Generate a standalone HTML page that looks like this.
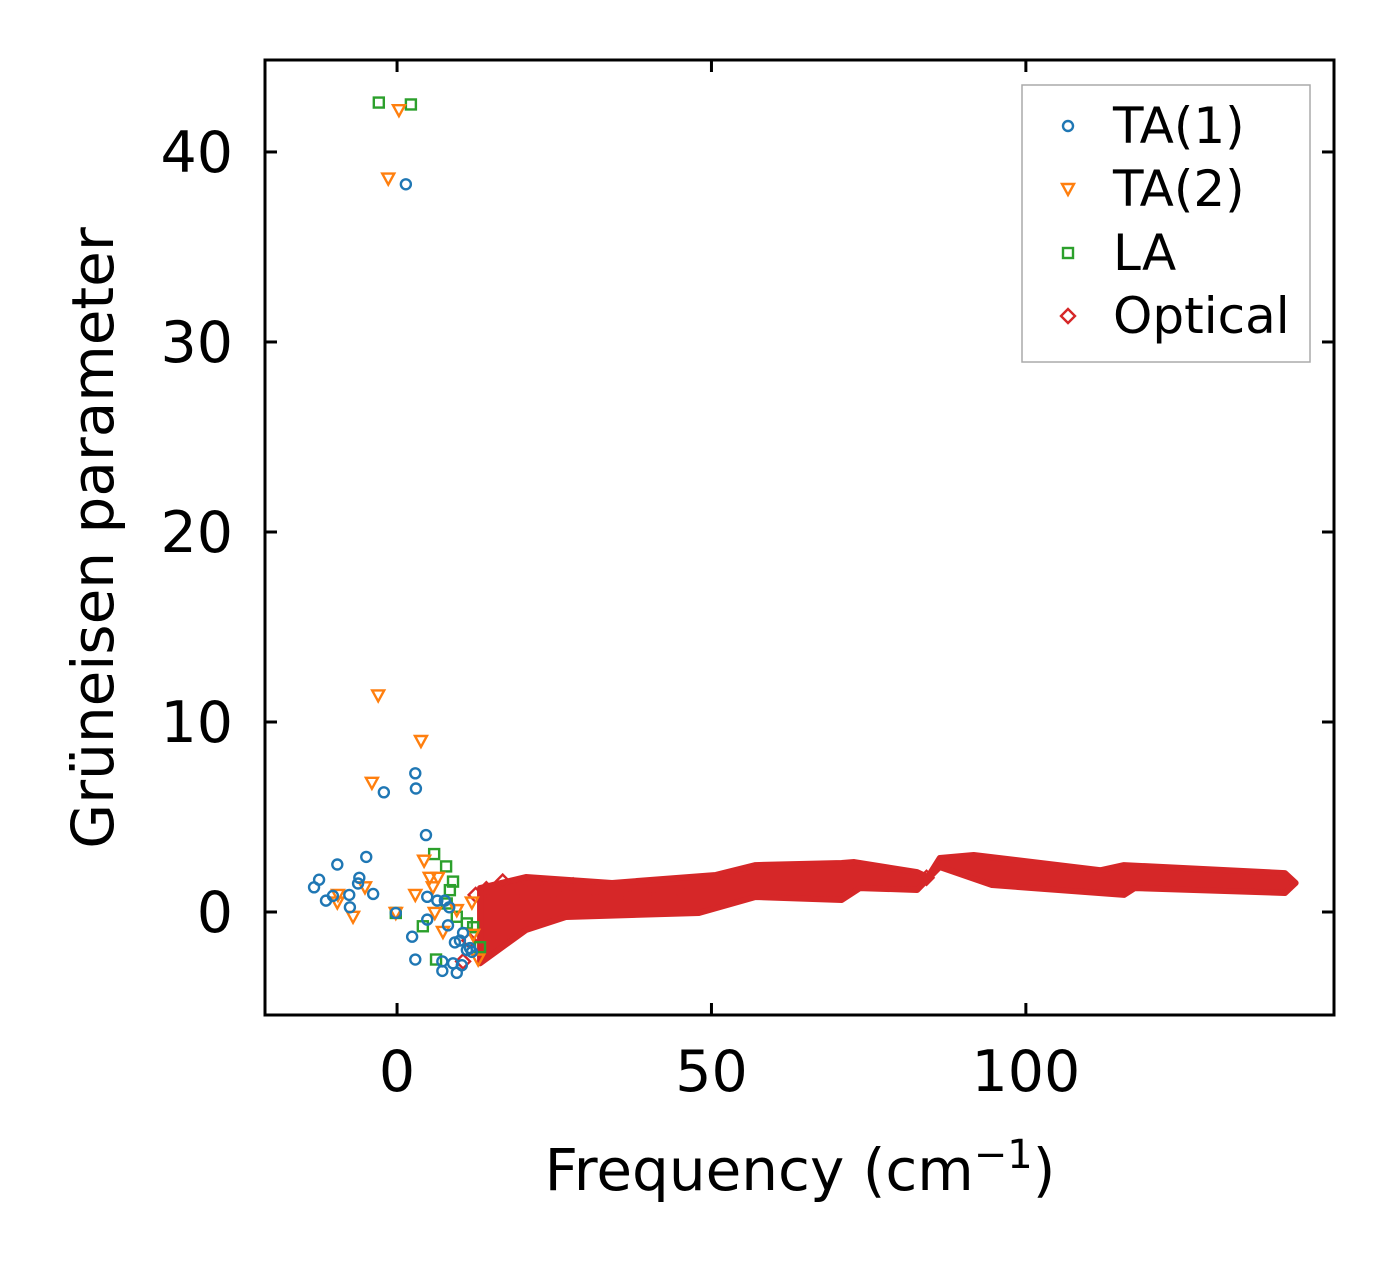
<!DOCTYPE html>
<html><head><meta charset="utf-8"><style>
html,body{margin:0;padding:0;background:#fff;}
svg text{font-family:"DejaVu Sans","Liberation Sans",sans-serif;fill:#000;}
</style></head><body>
<svg id="chart" width="1394" height="1264" viewBox="0 0 1394 1264" xmlns="http://www.w3.org/2000/svg">
<rect x="0" y="0" width="1394" height="1264" fill="#fff"/>
<g id="marks"></g>
<g id="axes"></g>
<g id="legend"></g>
</svg>
<script>
const xTicks = [0, 50, 100];
const yTicks = [0, 10, 20, 30, 40];
const ta1F = [2.9,3.0,-2.1,4.6,-4.9,-9.5,-12.4,-13.2,-6.0,-6.2,-11.3,-10.2,-7.6,-3.8,-7.5,-0.2,4.8,6.4,7.6,8.3,4.8,8.1,2.4,10.5,9.2,10.0,11.1,11.9,2.9,7.2,7.2,9.5,10.3,8.9,11.6,1.4];
const ta1G = [7.3,6.5,6.3,4.05,2.9,2.5,1.7,1.3,1.8,1.5,0.6,0.85,0.9,0.95,0.25,-0.05,0.8,0.6,0.6,0.25,-0.4,-0.7,-1.3,-1.1,-1.6,-1.5,-2.0,-2.1,-2.5,-2.6,-3.1,-3.2,-2.8,-2.7,-1.9,38.3];
const ta2F = [-4.0,4.3,5.2,6.5,5.7,2.9,-9.4,-9.5,-5.1,-7.0,-0.2,11.9,9.5,7.3,12.1,12.9,6.0,0.3,-1.4,-3.0,3.8];
const ta2G = [6.8,2.7,1.8,1.8,1.3,0.9,0.9,0.5,1.3,-0.25,-0.05,0.5,0.1,-1.05,-1.2,-2.5,-0.05,42.2,38.6,11.4,9.0];
const laF = [5.9,7.8,8.9,8.4,7.9,4.1,11.1,12.1,13.2,6.2,-0.2,9.5,-2.9,2.2];
const laG = [3.05,2.4,1.6,1.15,0.45,-0.75,-0.6,-0.8,-1.85,-2.5,-0.05,-0.25,42.6,42.5];
const optUpF = [13.2,20.5,34.2,50.7,57.0,70.7,72.7,82.7,84.4,86.3,91.7,111.9,115.6,141.2,142.9];
const optUpG = [1.26,1.84,1.53,1.95,2.47,2.58,2.63,2.1,1.84,2.84,3.0,2.2,2.47,2.05,1.53];
const optLoF = [141.2,117.3,115.6,94.6,86.3,82.7,73.6,70.7,57.0,48.0,26.9,20.5,13.2];
const optLoG = [1.0,1.26,0.9,1.42,2.37,1.16,1.26,0.63,0.79,-0.05,-0.26,-0.95,-2.7];
const optPtF = [12.5,14.2,16.8,19.5,22.0,24.8,28.0,31.5,36.0,40.5,45.0,84.2,10.5,11.5];
const optPtG = [0.9,1.2,1.6,1.2,1.4,1.1,1.4,1.2,1.1,1.3,1.2,1.8,-2.6,-1.5];

const L=265,R=1334,T=60,B=1015;
const xmin=-21.0, xmax=149.0, ymin=-5.42, ymax=44.84;
const sx=v=>L+(v-xmin)/(xmax-xmin)*(R-L);
const sy=v=>B-(v-ymin)/(ymax-ymin)*(B-T);
const NS="http://www.w3.org/2000/svg";
function mk(tag,attrs,parent){const e=document.createElementNS(NS,tag);for(const k in attrs)e.setAttribute(k,attrs[k]);parent.appendChild(e);return e;}
const marks=document.getElementById('marks'), axes=document.getElementById('axes'), legend=document.getElementById('legend');
const C1='#1f77b4',C2='#ff7f0e',C3='#2ca02c',C4='#d62728';
function circle(x,y,p,c){return mk('circle',{cx:x,cy:y,r:5,fill:'none',stroke:c,'stroke-width':2.4},p);}
function tri(x,y,p,c){return mk('path',{d:`M${x-6},${y-5}L${x+6},${y-5}L${x},${y+6}Z`,fill:'none',stroke:c,'stroke-width':2.4},p);}
function sq(x,y,p,c){return mk('rect',{x:x-5,y:y-5,width:10,height:10,fill:'none',stroke:c,'stroke-width':2.4},p);}
function dia(x,y,p,c){return mk('path',{d:`M${x},${y-7}L${x+7},${y}L${x},${y+7}L${x-7},${y}Z`,fill:'none',stroke:c,'stroke-width':2.4},p);}

let d='';
optUpF.forEach((f,i)=>{d+=(i?'L':'M')+sx(f)+','+sy(optUpG[i]);});
optLoF.forEach((f,i)=>{d+='L'+sx(f)+','+sy(optLoG[i]);});
d+='Z';
const band=mk('path',{d:d,fill:C4,stroke:C4,'stroke-width':6,'stroke-linejoin':'round'},marks);


optPtF.forEach((f,i)=>{const e=dia(sx(f),sy(optPtG[i]),marks,C4);

});
laF.forEach((f,i)=>{const e=sq(sx(f),sy(laG[i]),marks,C3);

});
ta2F.forEach((f,i)=>{const e=tri(sx(f),sy(ta2G[i]),marks,C2);

});
ta1F.forEach((f,i)=>{const e=circle(sx(f),sy(ta1G[i]),marks,C1);

});

const frame=mk('rect',{x:L,y:T,width:R-L,height:B-T,fill:'none',stroke:'#000','stroke-width':3},axes);


xTicks.forEach(v=>{const x=sx(v);
mk('line',{x1:x,y1:B,x2:x,y2:B-12,stroke:'#000','stroke-width':3},axes);
mk('line',{x1:x,y1:T,x2:x,y2:T+12,stroke:'#000','stroke-width':3},axes);
const t=mk('text',{x:x,y:B+76,'text-anchor':'middle','font-size':57},axes);t.textContent=v;

});
yTicks.forEach(v=>{const y=sy(v);
mk('line',{x1:L,y1:y,x2:L+12,y2:y,stroke:'#000','stroke-width':3},axes);
mk('line',{x1:R,y1:y,x2:R-12,y2:y,stroke:'#000','stroke-width':3},axes);
const t=mk('text',{x:L-32,y:y+20,'text-anchor':'end','font-size':57},axes);t.textContent=v;

});
const xt=mk('text',{x:800,y:1190,'text-anchor':'middle','font-size':58},axes);
xt.innerHTML='Frequency (cm<tspan dy="-22" font-size="40">−1</tspan><tspan dy="22">)</tspan>';


const yt=mk('text',{x:0,y:0,'text-anchor':'middle','font-size':58,transform:'translate(113,538) rotate(-90)'},axes);
yt.textContent='Grüneisen parameter';



const lb=mk('rect',{x:1022,y:85,width:288,height:277,fill:'#fff',stroke:'#aaa','stroke-width':1.5},legend);


const labels=['TA(1)','TA(2)','LA','Optical'];
const fns=[circle,tri,sq,dia],cols=[C1,C2,C3,C4],ly=[126,189,253,316];
labels.forEach((s,i)=>{const g=mk('g',{},legend);


fns[i](1068,ly[i],g,cols[i]);
const t=mk('text',{x:1113,y:ly[i]+17,'font-size':50},g);t.textContent=s;});
</script>
</body></html>
